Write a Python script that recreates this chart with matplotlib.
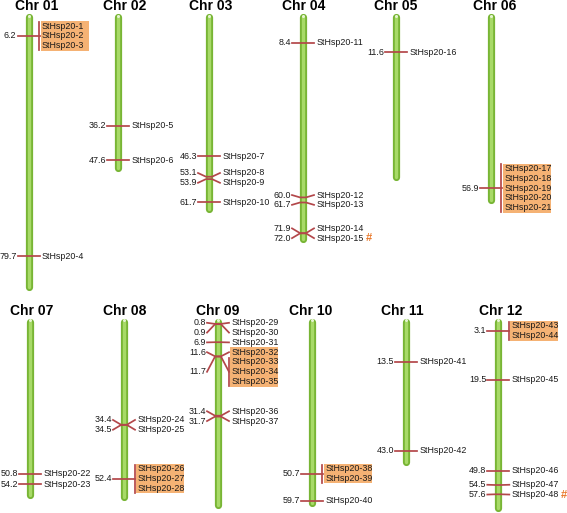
import matplotlib
matplotlib.use("Agg")
import matplotlib.pyplot as plt
from matplotlib.patches import Rectangle

# ---------------- data ----------------
chrom_names = ["Chr 01", "Chr 02", "Chr 03", "Chr 04", "Chr 05", "Chr 06",
               "Chr 07", "Chr 08", "Chr 09", "Chr 10", "Chr 11", "Chr 12"]
chrom_lengths = [89.9, 50.2, 64.0, 73.9, 53.2, 60.9,
                 57.8, 58.5, 61.0, 60.5, 46.8, 62.2]

marker_chrom = [1, 1,
                2, 2,
                3, 3, 3, 3,
                4, 4, 4, 4, 4,
                5,
                6,
                7, 7,
                8, 8, 8,
                9, 9, 9, 9, 9, 9, 9,
                10, 10,
                11, 11,
                12, 12, 12, 12, 12]
marker_pos = [6.2, 79.7,
              36.2, 47.6,
              46.3, 53.1, 53.9, 61.7,
              8.4, 60.0, 61.7, 71.9, 72.0,
              11.6,
              56.9,
              50.8, 54.2,
              34.4, 34.5, 52.4,
              0.8, 0.9, 6.9, 11.6, 11.7, 31.4, 31.7,
              50.7, 59.7,
              13.5, 43.0,
              3.1, 19.5, 49.8, 54.5, 57.6]
marker_genes = [[1, 2, 3], [4],
                [5], [6],
                [7], [8], [9], [10],
                [11], [12], [13], [14], [15],
                [16],
                [17, 18, 19, 20, 21],
                [22], [23],
                [24], [25], [26, 27, 28],
                [29], [30], [31], [32], [33, 34, 35], [36], [37],
                [38, 39], [40],
                [41], [42],
                [43, 44], [45], [46], [47], [48]]
highlighted = [True, False,
               False, False,
               False, False, False, False,
               False, False, False, False, False,
               False,
               True,
               False, False,
               False, False, True,
               False, False, False, True, True, False, False,
               True, False,
               False, False,
               True, False, False, False, False]
hash_genes = [15, 48]

# ---------------- layout ----------------
W, H = 567, 513
PX_PER_CM = 3.0
bar_x = [[28.5, 118, 209, 303, 396, 490.7],
         [30, 124, 218, 311.7, 406, 498.3]]
title_x = [[36.5, 124.5, 211, 304, 396, 494.7],
           [32, 125, 217.5, 310.5, 402, 500.5]]
title_y_px = [6.0, 310.7]
row_zero_px = [17.4, 321.5]      # pixel y of 0 cM in each row
row_span_px = [(0, 302), (302, 513)]
LH = 9.8 / PX_PER_CM             # one text line in cM units

FONT = "Liberation Sans"
TXT = "#1a1a1a"
LINE_C = "#B3474A"
BOX_C = "#F5B274"
FS = 6.4

fig = plt.figure(figsize=(W / 100, H / 100), dpi=100)
fig.patch.set_facecolor("white")


def _fit(blk, pos, heights, lo):
    off, acc = [], 0.0
    for j in blk["m"]:
        off.append(acc + heights[j] / 2)
        acc += heights[j]
    t = sum(pos[j] - o for j, o in zip(blk["m"], off)) / len(off)
    blk["t"] = max(t, lo)


def place_labels(pos, heights, lo):
    """Least-squares label placement with no overlaps and a top limit."""
    order = sorted(range(len(pos)), key=lambda i: pos[i])
    blocks = []
    for i in order:
        blk = {"m": [i]}
        _fit(blk, pos, heights, lo)
        blocks.append(blk)
        while len(blocks) > 1:
            a, b = blocks[-2], blocks[-1]
            a_bottom = a["t"] + sum(heights[j] for j in a["m"])
            if b["t"] < a_bottom - 1e-9:
                merged = {"m": a["m"] + b["m"]}
                _fit(merged, pos, heights, lo)
                blocks[-2:] = [merged]
            else:
                break
    centers = {}
    for blk in blocks:
        y = blk["t"]
        for j in blk["m"]:
            centers[j] = y + heights[j] / 2
            y += heights[j]
    return [centers[i] for i in range(len(pos))]


for row in range(2):
    p0, p1 = row_span_px[row]
    ax = fig.add_axes([0, 1 - p1 / H, 1, (p1 - p0) / H])
    ax.set_xlim(0, W)
    z = row_zero_px[row]
    ax.set_ylim((p1 - z) / PX_PER_CM, (p0 - z) / PX_PER_CM)
    ax.axis("off")

    for k in range(6):
        ci = row * 6 + k
        x = bar_x[row][k]
        L = chrom_lengths[ci]
        ax.plot([x, x], [0, L], lw=5.2, color="#78B535",
                solid_capstyle="round", zorder=2)
        ax.plot([x, x], [0, L], lw=2.4, color="#A8DA68",
                solid_capstyle="round", zorder=3)
        ax.plot([x], [-0.55], marker="o", ms=2.2, color="#E6F5D2",
                mec="none", zorder=4)
        ax.text(title_x[row][k], (title_y_px[row] - z) / PX_PER_CM,
                chrom_names[ci], ha="center", va="center",
                fontsize=10, fontweight="bold", family=FONT, color="black")

        idx = [i for i, c in enumerate(marker_chrom) if c == ci + 1]
        if not idx:
            continue
        pos = [marker_pos[i] for i in idx]
        hts = [len(marker_genes[i]) * LH for i in idx]
        centers = place_labels(pos, hts, -1.2)

        for i, a, lc, h in zip(idx, pos, centers, hts):
            genes = marker_genes[i]
            ax.plot([x - 11, x - 3, x + 3, x + 11], [lc, a, a, lc],
                    color=LINE_C, lw=1.25, zorder=5, solid_joinstyle="round")
            ax.text(x - 12, lc, f"{a:.1f}", ha="right", va="center",
                    fontsize=FS, family=FONT, color=TXT)
            top = lc - h / 2
            if highlighted[i]:
                ax.add_patch(Rectangle((x + 12, top), 48, h, facecolor=BOX_C,
                                       edgecolor="none", zorder=1))
            if len(genes) > 1:
                ax.plot([x + 10.5, x + 10.5], [top + 0.3, top + h - 0.3],
                        color=LINE_C, lw=1.25, zorder=5)
            for gi, g in enumerate(genes):
                gy = top + LH * (gi + 0.5)
                ax.text(x + 13.5, gy, f"StHsp20-{g}", ha="left", va="center",
                        fontsize=FS, family=FONT, color=TXT, zorder=6)
                if g in hash_genes:
                    ax.text(x + 62.5, gy, "#", ha="left", va="center",
                            fontsize=8, fontweight="bold", family=FONT,
                            color="#E9782A", zorder=6)

fig.savefig("out.png", dpi=100, facecolor="white")
